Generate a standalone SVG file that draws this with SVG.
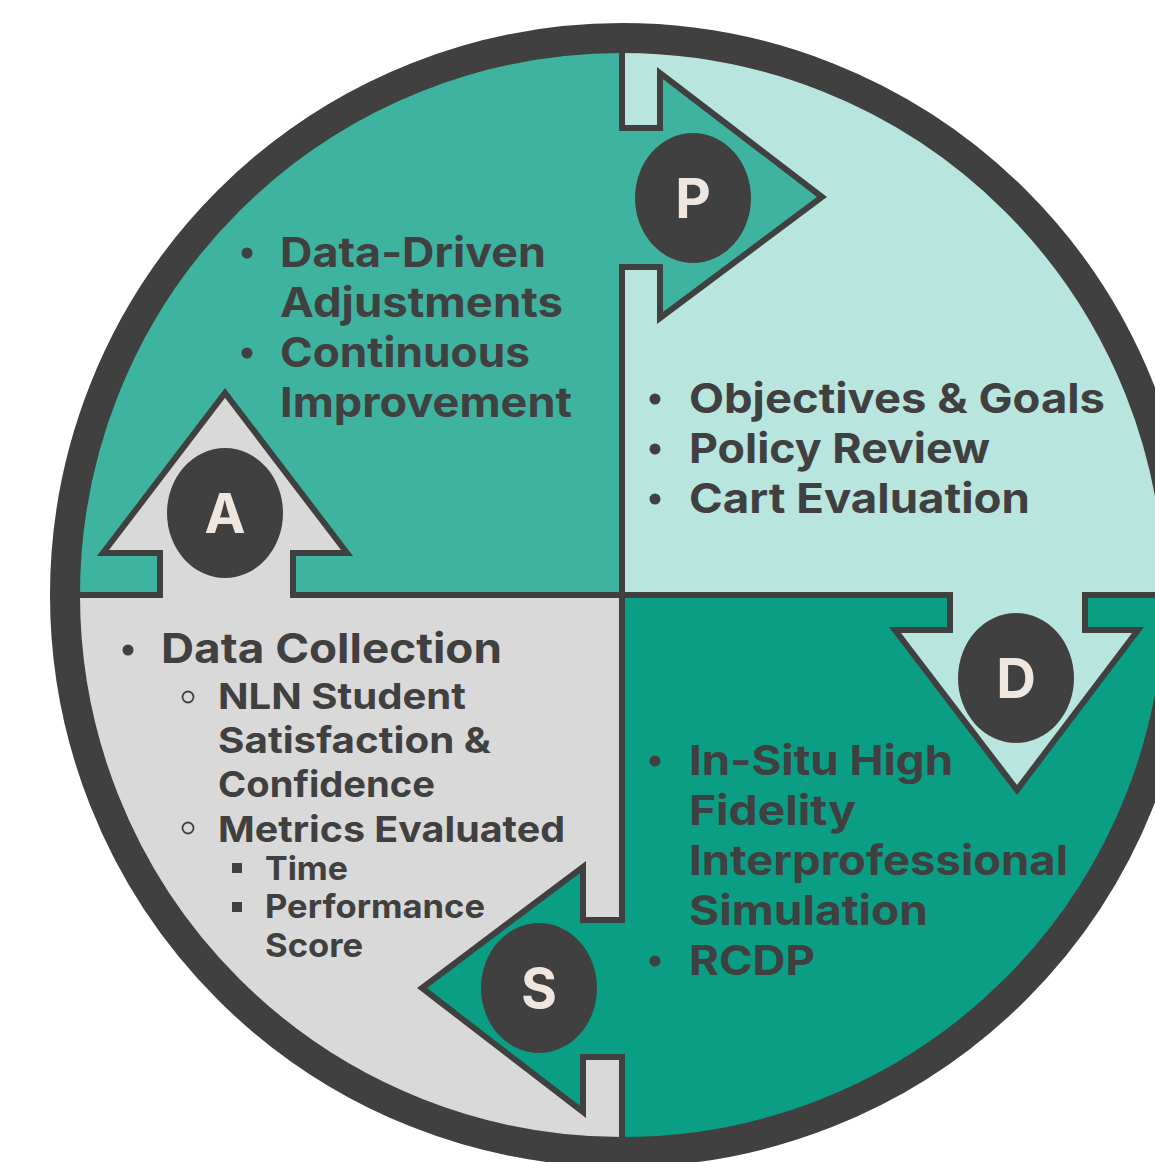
<svg xmlns="http://www.w3.org/2000/svg" width="1155" height="1162" viewBox="0 0 1155 1162">
  <style>
    .txt { font-family: Inter, "Open Sans", "Liberation Sans", sans-serif; font-weight: 700; fill: #404040; }
    .l1 { font-size: 41px; }
    .l2 { font-size: 36px; }
    .l3 { font-size: 33px; }
    .letter { font-family: Inter, "Liberation Sans", sans-serif; font-weight: 700; font-size: 55px; fill: #f0e6e0; text-anchor: middle; }
    .edge { fill: none; stroke: #404040; stroke-width: 6; stroke-linejoin: miter; }
    .badge { fill: #404040; }
    .dot { fill: #404040; }
  </style>
  <defs>
    <clipPath id="disc">
      <circle cx="622" cy="595" r="543"/>
    </clipPath>
  </defs>
  <rect width="1155" height="1162" fill="#ffffff"/>

  <!-- quadrants -->
  <g id="quadrants" clip-path="url(#disc)">
    <rect x="0" y="0" width="622" height="595" fill="#3eb39f"/>
    <rect x="622" y="0" width="600" height="595" fill="#b8e5de"/>
    <rect x="622" y="595" width="600" height="600" fill="#0a9e85"/>
    <rect x="0" y="595" width="622" height="600" fill="#d9d9d9"/>
    <!-- dividers -->
    <line x1="622" y1="0" x2="622" y2="1200" stroke="#404040" stroke-width="6"/>
    <line x1="0" y1="595" x2="1200" y2="595" stroke="#404040" stroke-width="6"/>
  </g>

  <!-- outer ring -->
  <circle id="rim" cx="622" cy="595" r="557" fill="none" stroke="#404040" stroke-width="30"/>

  <!-- connectors: the four cycle arrows -->
  <g id="connectors">
    <g id="arrow-p">
      <polygon points="619,128 660,128 660,73 822,197 660,318 660,267 619,267" fill="#3eb39f"/>
      <polyline class="edge" points="619,128 660,128 660,73 822,197 660,318 660,267 619,267"/>
    </g>
    <g id="arrow-d">
      <polygon points="950,592 950,630 895,630 1017,790 1138,630 1085,630 1085,592" fill="#b8e5de"/>
      <polyline class="edge" points="950,592 950,630 895,630 1017,790 1138,630 1085,630 1085,592"/>
    </g>
    <g id="arrow-s">
      <polygon points="625,920 583,920 583,867 422,988 583,1112 583,1057 625,1057" fill="#0a9e85"/>
      <polyline class="edge" points="625,920 583,920 583,867 422,988 583,1112 583,1057 625,1057"/>
    </g>
    <g id="arrow-a">
      <polygon points="160,598 160,553 103,553 225,393 347,553 293,553 293,598" fill="#d9d9d9"/>
      <polyline class="edge" points="160,598 160,553 103,553 225,393 347,553 293,553 293,598"/>
    </g>
  </g>

  <!-- stage badges -->
  <g id="node-p">
    <ellipse class="badge" cx="693" cy="198" rx="58" ry="65"/>
    <text class="letter" x="693" y="218">P</text>
  </g>
  <g id="node-d">
    <ellipse class="badge" cx="1016" cy="678" rx="58" ry="65"/>
    <text class="letter" x="1016" y="698">D</text>
  </g>
  <g id="node-s">
    <ellipse class="badge" cx="539" cy="988" rx="58" ry="65"/>
    <text class="letter" x="539" y="1008">S</text>
  </g>
  <g id="node-a">
    <ellipse class="badge" cx="225" cy="513" rx="58" ry="65"/>
    <text class="letter" x="225" y="533">A</text>
  </g>

  <!-- Act quadrant notes -->
  <g id="notes-act">
    <circle class="dot" cx="247" cy="253" r="5.5"/>
    <text class="txt l1" x="280" y="267" textLength="266" lengthAdjust="spacingAndGlyphs">Data-Driven</text>
    <text class="txt l1" x="280" y="317" textLength="283" lengthAdjust="spacingAndGlyphs">Adjustments</text>
    <circle class="dot" cx="247" cy="353" r="5.5"/>
    <text class="txt l1" x="280" y="367" textLength="250" lengthAdjust="spacingAndGlyphs">Continuous</text>
    <text class="txt l1" x="280" y="417" textLength="292" lengthAdjust="spacingAndGlyphs">Improvement</text>
  </g>

  <!-- Plan quadrant notes -->
  <g id="notes-plan">
    <circle class="dot" cx="655" cy="399" r="5.5"/>
    <text class="txt l1" x="689" y="413" textLength="416" lengthAdjust="spacingAndGlyphs">Objectives &amp; Goals</text>
    <circle class="dot" cx="655" cy="449" r="5.5"/>
    <text class="txt l1" x="689" y="463" textLength="301" lengthAdjust="spacingAndGlyphs">Policy Review</text>
    <circle class="dot" cx="655" cy="499" r="5.5"/>
    <text class="txt l1" x="689" y="513" textLength="341" lengthAdjust="spacingAndGlyphs">Cart Evaluation</text>
  </g>

  <!-- Do quadrant notes -->
  <g id="notes-do">
    <circle class="dot" cx="655" cy="761" r="5.5"/>
    <text class="txt l1" x="689" y="775" textLength="264" lengthAdjust="spacingAndGlyphs">In-Situ High</text>
    <text class="txt l1" x="689" y="825" textLength="167" lengthAdjust="spacingAndGlyphs">Fidelity</text>
    <text class="txt l1" x="689" y="875" textLength="379" lengthAdjust="spacingAndGlyphs">Interprofessional</text>
    <text class="txt l1" x="689" y="925" textLength="239" lengthAdjust="spacingAndGlyphs">Simulation</text>
    <circle class="dot" cx="655" cy="961" r="5.5"/>
    <text class="txt l1" x="689" y="975" textLength="126" lengthAdjust="spacingAndGlyphs">RCDP</text>
  </g>

  <!-- Study quadrant notes -->
  <g id="notes-study">
    <circle class="dot" cx="128" cy="650" r="5.5"/>
    <text class="txt l1" x="161" y="663" textLength="341" lengthAdjust="spacingAndGlyphs">Data Collection</text>
    <circle cx="188" cy="697" r="5.5" fill="none" stroke="#404040" stroke-width="1.8"/>
    <text class="txt l2" x="218" y="709" textLength="248" lengthAdjust="spacingAndGlyphs">NLN Student</text>
    <text class="txt l2" x="218" y="753" textLength="273" lengthAdjust="spacingAndGlyphs">Satisfaction &amp;</text>
    <text class="txt l2" x="218" y="797" textLength="217" lengthAdjust="spacingAndGlyphs">Confidence</text>
    <circle cx="188" cy="828" r="5.5" fill="none" stroke="#404040" stroke-width="1.8"/>
    <text class="txt l2" x="218" y="842" textLength="347" lengthAdjust="spacingAndGlyphs">Metrics Evaluated</text>
    <rect class="dot" x="232" y="863" width="10" height="10"/>
    <text class="txt l3" x="265" y="880" textLength="83" lengthAdjust="spacingAndGlyphs">Time</text>
    <rect class="dot" x="232" y="902" width="10" height="10"/>
    <text class="txt l3" x="265" y="918" textLength="220" lengthAdjust="spacingAndGlyphs">Performance</text>
    <text class="txt l3" x="265" y="957" textLength="98" lengthAdjust="spacingAndGlyphs">Score</text>
  </g>
</svg>
